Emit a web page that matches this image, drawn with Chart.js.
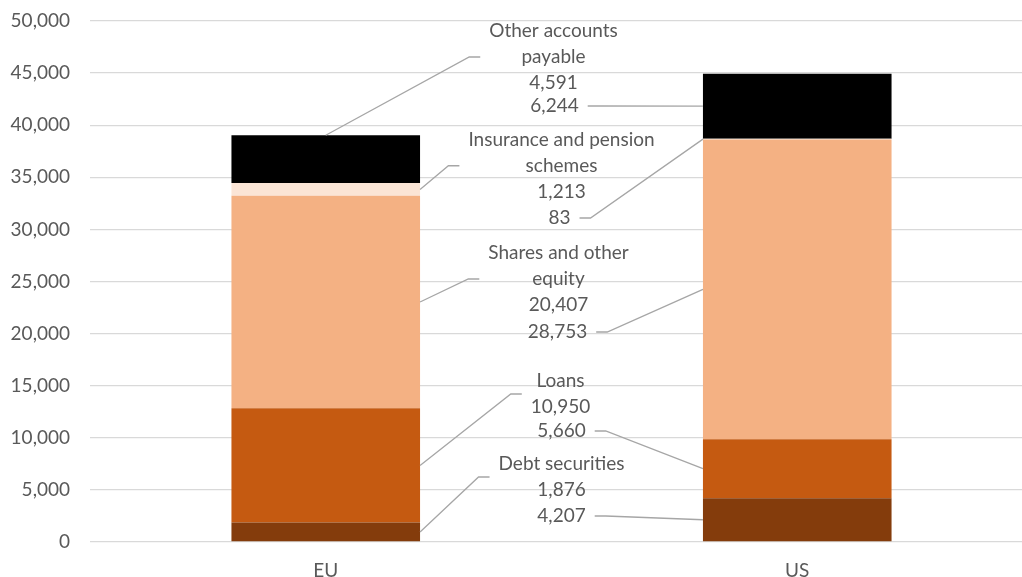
<!DOCTYPE html>
<html>
<head>
<meta charset="utf-8">
<script src="https://cdn.jsdelivr.net/npm/chart.js@4"></script>
<style>
  html, body { margin: 0; padding: 0; background: #ffffff; overflow: hidden; }
  #wrap { width: 1033px; height: 577px; position: relative; }
</style>
</head>
<body>
<div id="wrap"><canvas id="c"></canvas></div>
<script>
// ---- Data ----
const categories = ["EU", "US"];
const seriesNames = ["Debt securities", "Loans", "Shares and other equity", "Insurance and pension schemes", "Other accounts payable"];
const debtSecurities = [1876, 4207];
const loans = [10950, 5660];
const sharesEquity = [20407, 28753];
const insurancePension = [1213, 83];
const otherPayable = [4591, 6244];
const yTicks = [0, 5000, 10000, 15000, 20000, 25000, 30000, 35000, 40000, 45000, 50000];

// ---- Label text (series name wrapped as in the original) ----
const seriesLabelLines = [
  ["Debt securities"],
  ["Loans"],
  ["Shares and other", "equity"],
  ["Insurance and pension", "schemes"],
  ["Other accounts", "payable"]
];

// ---- Styles ----
const colors = ["#843C0C", "#C55A11", "#F4B183", "#FBE5D6", "#000000"];
const textColor = "#595959";
const gridColor = "#d9d9d9";
const leaderColor = "#a6a6a6";
const fontFamily = "Lato, 'Open Sans', sans-serif";
const fontSize = 19;

// label placement: block centre expressed on the value axis, small horizontal nudge in px
const labelLayout = [
  { s: 0, c: 0, yAt: 6238,  dx: 0,  anchor: "side", name: true },
  { s: 1, c: 0, yAt: 14203, dx: -1, anchor: "side", name: true },
  { s: 2, c: 0, yAt: 25240, dx: -3, anchor: "side", name: true },
  { s: 3, c: 0, yAt: 36110, dx: 0,  anchor: "side", name: true },
  { s: 4, c: 0, yAt: 46545, dx: -8, anchor: "top",  name: true },
  { s: 0, c: 1, yAt: 2495,  dx: 0,  anchor: "side", name: false },
  { s: 1, c: 1, yAt: 10653, dx: 0,  anchor: "side", name: false },
  { s: 2, c: 1, yAt: 20154, dx: -4, anchor: "side", name: false },
  { s: 3, c: 1, yAt: 31094, dx: -2, anchor: "side", name: false },
  { s: 4, c: 1, yAt: 41843, dx: -7, anchor: "side", name: false }
];

const seriesValues = [debtSecurities, loans, sharesEquity, insurancePension, otherPayable];
const fmt = v => v.toLocaleString("en-US");

const leaderPlugin = {
  id: "leaderLabels",
  afterDatasetsDraw(chart) {
    const ctx = chart.ctx;
    const ys = chart.scales.y;
    const xs = chart.scales.x;
    const midX = (xs.getPixelForValue(0) + xs.getPixelForValue(1)) / 2;
    const lineH = 26;
    ctx.save();
    ctx.font = fontSize + "px " + fontFamily;
    ctx.fillStyle = textColor;
    ctx.textAlign = "center";
    ctx.textBaseline = "middle";
    labelLayout.forEach(L => {
      const bar = chart.getDatasetMeta(L.s).data[L.c];
      const lines = (L.name ? seriesLabelLines[L.s].slice() : []);
      lines.push(fmt(seriesValues[L.s][L.c]));
      const cx = midX + L.dx;
      const cy = ys.getPixelForValue(L.yAt);
      const n = lines.length;
      let w = 0;
      lines.forEach(t => { w = Math.max(w, ctx.measureText(t).width); });
      lines.forEach((t, i) => {
        ctx.fillText(t, cx, cy + (i - (n - 1) / 2) * lineH);
      });
      // leader
      const half = bar.width / 2;
      const segMid = (bar.y + bar.base) / 2;
      let ax, ay, s1, s2;
      if (L.c === 0) {
        s2 = cx - w / 2 - 9; s1 = s2 - 11;
        if (L.anchor === "top") { ax = bar.x; ay = bar.y; }
        else { ax = bar.x + half; ay = segMid; }
      } else {
        s1 = cx + w / 2 + 9; s2 = s1 + 11;
        ax = bar.x - half; ay = segMid;
      }
      ctx.beginPath();
      ctx.strokeStyle = leaderColor;
      ctx.lineWidth = 1.3;
      if (L.c === 0) {
        ctx.moveTo(s2, cy); ctx.lineTo(s1, cy); ctx.lineTo(ax, ay);
      } else {
        ctx.moveTo(s1, cy); ctx.lineTo(s2, cy); ctx.lineTo(ax, ay);
      }
      ctx.stroke();
    });
    ctx.restore();
  }
};

new Chart(document.getElementById("c"), {
  type: "bar",
  data: {
    labels: categories,
    datasets: seriesValues.map((vals, i) => ({
      label: seriesNames[i],
      data: vals,
      backgroundColor: colors[i],
      borderWidth: 0,
      categoryPercentage: 1.0,
      barPercentage: 0.4
    }))
  },
  options: {
    responsive: true,
    maintainAspectRatio: false,
    animation: false,
    layout: { padding: { top: 21, left: 0, right: 0, bottom: 0 } },
    plugins: {
      legend: { display: false },
      tooltip: { enabled: false }
    },
    scales: {
      x: {
        stacked: true,
        grid: { display: false, drawTicks: false },
        border: { display: false },
        ticks: { color: textColor, font: { family: fontFamily, size: fontSize }, padding: 17 },
        afterFit: s => { s.height = 35; s.paddingLeft = 0; s.paddingRight = 0; }
      },
      y: {
        stacked: true,
        min: 0,
        max: 50000,
        afterBuildTicks: s => { s.ticks = yTicks.map(v => ({ value: v })); },
        grid: { color: gridColor, lineWidth: 1.3, drawTicks: false },
        border: { display: false },
        ticks: {
          color: textColor,
          font: { family: fontFamily, size: fontSize },
          padding: 20,
          callback: v => fmt(v)
        },
        afterFit: s => { s.width = 90; s.paddingTop = 0; s.paddingBottom = 0; }
      }
    }
  },
  plugins: [leaderPlugin]
});
</script>
</body>
</html>
